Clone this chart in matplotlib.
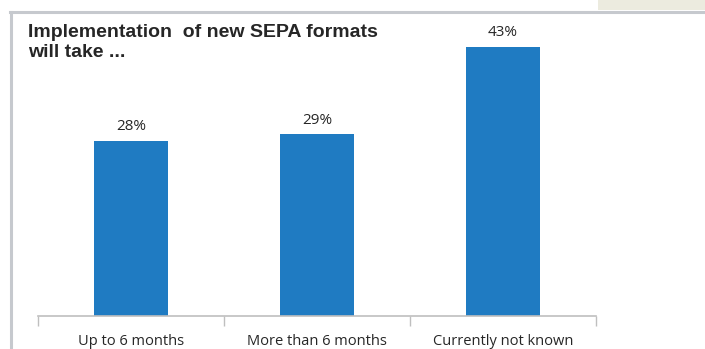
import matplotlib
matplotlib.use("Agg")
import matplotlib.pyplot as plt
from matplotlib.patches import Rectangle
from matplotlib.lines import Line2D

categories = ["Up to 6 months", "More than 6 months", "Currently not known"]
shares = [28, 29, 43]
value_labels = ["28%", "29%", "43%"]
title = "Implementation  of new SEPA formats\nwill take ..."

W, H = 705, 349
fig = plt.figure(figsize=(W / 100, H / 100), dpi=100)
fig.patch.set_facecolor("white")

# frame decoration: top rule, left rule and small tab at the top right
fig.add_artist(Rectangle((598 / W, 1 - 10 / H), 107 / W, 10 / H,
                         transform=fig.transFigure, facecolor="#ecebdf",
                         edgecolor="none"))
fig.add_artist(Line2D([10 / W, 1], [1 - 12 / H, 1 - 12 / H],
                      transform=fig.transFigure, color="#c6c9ce", lw=2.2))
fig.add_artist(Line2D([11 / W, 11 / W], [0, 1 - 12 / H],
                      transform=fig.transFigure, color="#c6c9ce", lw=2.2))

base_y = 315.5
px_per_unit = 6.25
ymax = 50
ax = fig.add_axes([38 / W, 1 - base_y / H, 558 / W, ymax * px_per_unit / H])
ax.set_xlim(-0.5, 2.5)
ax.set_ylim(0, ymax)

x = list(range(len(categories)))
ax.bar(x, shares, width=0.4, color="#1f7bc2", zorder=2)

for xi, v, lab in zip(x, shares, value_labels):
    ax.annotate(lab, (xi, v), xytext=(0, 4.5), textcoords="offset points",
                ha="center", va="bottom", fontsize=11, color="#262626",
                family="Open Sans")

for s in ["top", "right", "left"]:
    ax.spines[s].set_visible(False)
ax.spines["bottom"].set_color("#bfbfbf")
ax.spines["bottom"].set_linewidth(1.2)
ax.set_yticks([])

ax.set_xticks(x)
ax.set_xticklabels(categories, fontsize=10.5, color="#262626", family="Open Sans")
ax.tick_params(axis="x", which="major", length=0, pad=13)
ax.set_xticks([-0.5, 0.5, 1.5, 2.5], minor=True)
ax.tick_params(axis="x", which="minor", length=7, width=1.0, color="#bfbfbf")

fig.text(28 / W, 1 - 24 / H, title, ha="left", va="top", fontsize=14,
         fontweight="bold", color="#262626", family="Liberation Sans",
         linespacing=1.2)

fig.savefig("out.png", dpi=100)
